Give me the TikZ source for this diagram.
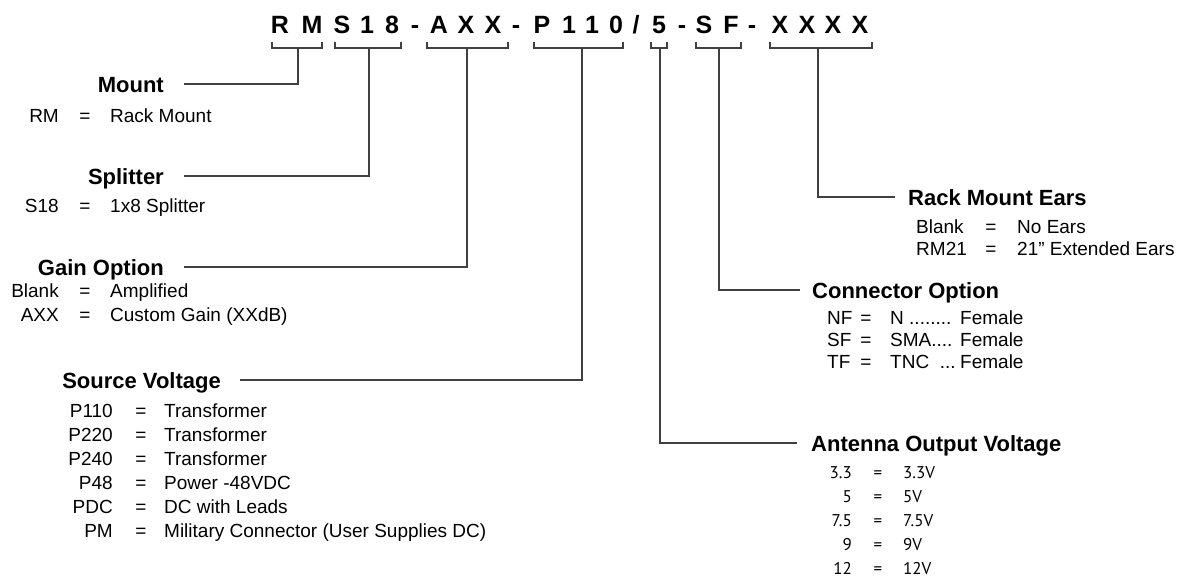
\documentclass[tikz,border=0pt]{standalone}
\usepackage{fontspec}
\setmainfont{Liberation Sans}
\newfontfamily\voltfont{PT Sans}

\begin{document}
\begin{tikzpicture}[x=1pt,y=-1pt,
  code/.style={font=\fontsize{25}{30}\selectfont\bfseries,inner sep=0pt,text height=18pt,text depth=0pt},
  head/.style={font=\fontsize{22}{26}\selectfont\bfseries,inner sep=0pt,text height=16pt,text depth=0pt},
  row/.style={font=\fontsize{19}{24}\selectfont,inner sep=0pt,text height=13.6pt,text depth=0pt},
  vrow/.style={font=\voltfont\fontsize{17}{22}\selectfont,inner sep=0pt,text height=12pt,text depth=0pt},
  bracket/.style={black!75,line width=1.2pt},
  leader/.style={black!75,line width=1.2pt}]
\useasboundingbox (0,0) rectangle (1199,581);

% part number
\foreach \x/\c [count=\i] in {280/R,312/M,342/S,367/1,392/8,415/-,439/A,466/X,493/X,516/-,
  542/P,569/1,592/1,616/0,636/{/},659/5,682/-,704/S,731/F,752/-,780/X,807/X,833/X,860/X}
  \node[code] (c\i) at (\x,24) {\c};

% brackets under the fields
\foreach \a/\b/\m/\n in {272/322/298/sRM,335/401/369/sS,427/508/467/sA,534/623/582/sP,
  651/667/660/sV,696/741/719/sC,770/872/818/sE}{
  \draw[bracket] (\a,42) -- (\a,48) -- (\b,48) -- (\b,42);
  \coordinate (\n) at (\m,48);
}

% left column
\node[head,anchor=east] (mount) at (164,84) {Mount};
\node[head,anchor=east] (splitter) at (164,176) {Splitter};
\node[head,anchor=east] (gain) at (164,267) {Gain Option};
\foreach \y/\k/\v [count=\i] in {116/RM/Rack Mount,206/S18/1x8 Splitter,
  291/Blank/Amplified,315/AXX/Custom Gain (XXdB)}{
  \node[row,anchor=east] (lk\i) at (59,\y) {\k};
  \node[row] (le\i) at (85,\y) {=};
  \node[row,anchor=west] (lv\i) at (110,\y) {\v};
}

\node[head,anchor=east] (source) at (221,380) {Source Voltage};
\foreach \y/\k/\v [count=\i] in {411/P110/Transformer,435/P220/Transformer,459/P240/Transformer,
  483/P48/Power -48VDC,507/PDC/DC with Leads,531/PM/Military Connector (User Supplies DC)}{
  \node[row,anchor=east] (sk\i) at (113,\y) {\k};
  \node[row] (se\i) at (141,\y) {=};
  \node[row,anchor=west] (sv\i) at (164,\y) {\v};
}

% right column
\node[head,anchor=west] (ears) at (908,197) {Rack Mount Ears};
\foreach \y/\k/\v [count=\i] in {227/Blank/No Ears,249/RM21/21” Extended Ears}{
  \node[row,anchor=west] (ek\i) at (916,\y) {\k};
  \node[row] (ee\i) at (991,\y) {=};
  \node[row,anchor=west] (ev\i) at (1017,\y) {\v};
}

\node[head,anchor=west] (connector) at (812,290) {Connector Option};
\foreach \y/\k [count=\i] in {318/NF,340/SF,362/TF}{
  \node[row,anchor=west] (ck\i) at (827,\y) {\k};
  \node[row] (ce\i) at (866,\y) {=};
  \node[row,anchor=west] (cf\i) at (960,\y) {Female};
}
\node[row,anchor=west] (cv1) at (890,318) {N ........};
\node[row,anchor=west] (cv2) at (890,340) {SMA....};
\node[row,anchor=west] (cv3) at (890,362) {TNC\ \ ...};

\node[head,anchor=west] (antenna) at (811,443) {Antenna Output Voltage};
\foreach \y/\k/\v [count=\i] in {472/3.3/3.3V,496/5/5V,520/7.5/7.5V,544/9/9V,568/12/12V}{
  \node[vrow,anchor=east] (ak\i) at (852,\y) {\k};
  \node[vrow] (ae\i) at (878,\y) {=};
  \node[vrow,anchor=west] (av\i) at (903,\y) {\v};
}

% leaders
\draw[leader] (sRM) |- ([xshift=20pt]mount.east);
\draw[leader] (sS) |- ([xshift=20pt]splitter.east);
\draw[leader] (sA) |- ([xshift=20pt]gain.east);
\draw[leader] (sP) |- ([xshift=19pt]source.east);
\draw[leader] (sV) |- ([xshift=-14pt]antenna.west);
\draw[leader] (sC) |- ([xshift=-12pt]connector.west);
\draw[leader] (sE) |- ([xshift=-13pt]ears.west);
\end{tikzpicture}
\end{document}
